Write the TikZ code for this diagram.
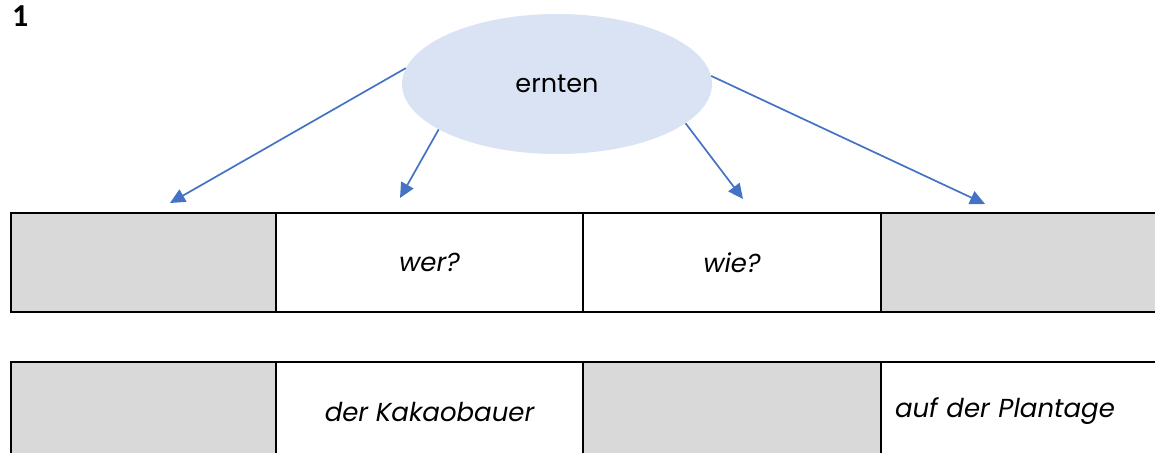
\documentclass[tikz,border=0pt]{standalone}
\usepackage{fontspec}
\setmainfont{Poppins}
\newfontfamily\numfont{Carlito}
\usepackage{xcolor}
\usepackage{tikz}
\usetikzlibrary{positioning,shapes.geometric,arrows.meta}
\definecolor{linkblue}{RGB}{68,114,196}
\definecolor{verbblue}{RGB}{218,227,243}
\definecolor{cellgrey}{RGB}{217,217,217}

\begin{document}
\begin{tikzpicture}[x=1pt, y=-1pt, node distance=0pt,
  cell/.style={draw, line width=2.3pt, minimum height=99pt, outer sep=0pt, inner sep=0pt, font=\fontsize{26}{30}\selectfont\itshape},
  greycell/.style={cell, fill=cellgrey},
  link/.style={linkblue, line width=1.7pt, -{Triangle[length=15pt,width=14pt]}}]
\path[use as bounding box, clip] (0,0) rectangle (1155,452);
\node[anchor=north west, inner sep=0pt, font=\numfont\bfseries\fontsize{32}{36}\selectfont] (num) at (12,6) {1};
\node[ellipse, fill=verbblue, minimum width=310pt, minimum height=140pt, font=\fontsize{25.5}{30}\selectfont] (verb) at (557,84) {ernten};
% upper row
\node[greycell, minimum width=265pt, anchor=north west] (q1) at (11,213) {};
\node[cell, minimum width=307pt, right=of q1] (q2) {wer?};
\node[cell, minimum width=298pt, right=of q2] (q3) {wie?};
\node[greycell, minimum width=289pt, right=of q3] (q4) {};
% lower row
\node[greycell, minimum width=265pt, below=50pt of q1] (a1) {};
\node[cell, minimum width=307pt, right=of a1] (a2) {der Kakaobauer};
\node[greycell, minimum width=298pt, right=of a2] (a3) {};
\node[cell, text width=261pt, inner xsep=14pt, align=left, right=of a3] (a4) {auf der Plantage};
% arrows
\coordinate (t1) at (170,203);
\coordinate (t2) at (400,198);
\coordinate (t3) at (743,199);
\coordinate (t4) at (985,204);
\draw[link] (verb.174) -- (t1);
\draw[link] (verb.201) -- (t2);
\draw[link] (verb.343) -- (t3);
\draw[link] (verb.3) -- (t4);
\end{tikzpicture}
\end{document}
